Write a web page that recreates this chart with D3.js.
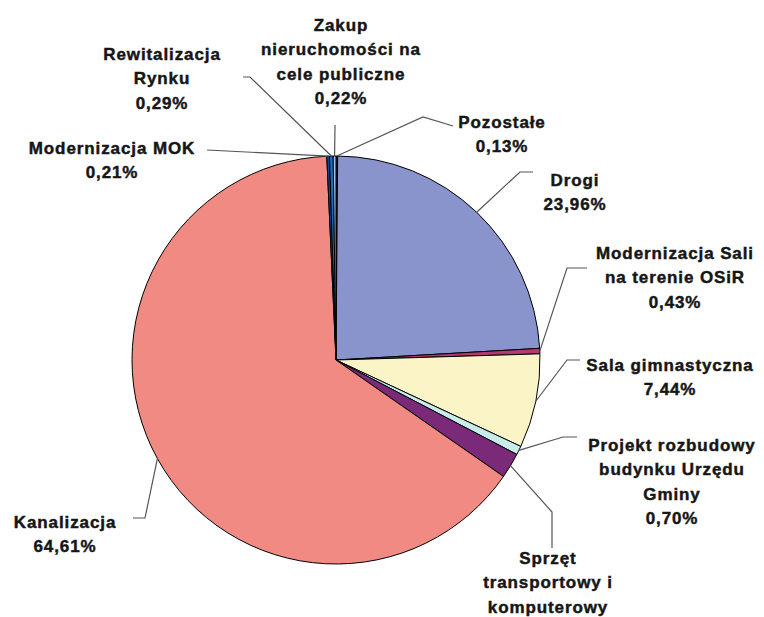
<!DOCTYPE html>
<html>
<head>
<meta charset="utf-8">
<title>Struktura wydatków inwestycyjnych</title>
<style>
body { margin: 0; background: #fff; }
.slice path { stroke: #000; stroke-width: 1px; }
.leader { fill: none; stroke: #555; stroke-width: 1.2px; }
.label text {
  font: bold 17px "Liberation Sans", Arial, sans-serif;
  letter-spacing: 0.9px;
  fill: #161616;
  stroke: #161616;
  stroke-width: 0.45px;
  text-anchor: middle;
}
</style>
</head>
<body>
<svg width="764" height="617"></svg>
<script src="https://cdn.jsdelivr.net/npm/d3@7"></script>
<script>

// data, clockwise from 12 o'clock
var categories = [
  "Pozostałe",
  "Drogi",
  "Modernizacja Sali na terenie OSiR",
  "Sala gimnastyczna",
  "Projekt rozbudowy budynku Urzędu Gminy",
  "Sprzęt transportowy i komputerowy",
  "Kanalizacja",
  "Modernizacja MOK",
  "Rewitalizacja Rynku",
  "Zakup nieruchomości na cele publiczne"
];
var shares = [0.13, 23.96, 0.43, 7.44, 0.70, 2.01, 64.61, 0.21, 0.29, 0.22];
var labelLines = [
  ["Pozostałe"],
  ["Drogi"],
  ["Modernizacja Sali", "na terenie OSiR"],
  ["Sala gimnastyczna"],
  ["Projekt rozbudowy", "budynku Urzędu", "Gminy"],
  ["Sprzęt", "transportowy i", "komputerowy"],
  ["Kanalizacja"],
  ["Modernizacja MOK"],
  ["Rewitalizacja", "Rynku"],
  ["Zakup", "nieruchomości na", "cele publiczne"]
];
var colors = ["#233c8c", "#8894cb", "#b23a6e", "#fbf4c6", "#c8ecea",
              "#7a2a78", "#f28a84", "#0a4a9a", "#1d6bc0", "#a8c0e0"];

// label placement: text centre + first line, leader elbow and end
var labelPos = [[502, 122], [575, 180], [675, 253], [670, 365], [672, 445],
                [548, 558], [65, 522], [112, 148], [162, 54], [341, 25]];
var elbows = [[423, 117], [520, 172], [567, 268], [567, 360], [563, 437],
              [552, 512], [145, 518], [207, 150], [250, 77], [335, 125]];
var ends   = [[453, 126], [533, 172], [587, 268], [580, 360], [577, 437],
              [552, 548], [133, 518], [207, 150], [243, 77], [335, 125]];

var svg = d3.select("svg"),
    cx = 336, cy = 360, radius = 204,
    lineH = 24.3;

var fmt = function(v) { return d3.format(".2f")(v).replace(".", ",") + "%"; };

var pie = d3.pie().sort(null).value(function(d) { return d; });
var arcs = pie(shares);
var arc = d3.arc().innerRadius(0).outerRadius(radius);

var g = svg.append("g").attr("transform", "translate(" + cx + "," + cy + ")");

g.selectAll(".slice")
    .data(arcs)
  .enter().append("g")
    .attr("class", "slice")
  .append("path")
    .attr("d", arc)
    .attr("fill", function(d, i) { return colors[i]; });

// leader lines from the middle of each slice's rim
var line = d3.line();
svg.selectAll(".leader")
    .data(arcs)
  .enter().append("path")
    .attr("class", "leader")
    .attr("d", function(d, i) {
      var a = (d.startAngle + d.endAngle) / 2;
      var p0 = [cx + radius * Math.sin(a), cy - radius * Math.cos(a)];
      return line([p0, elbows[i], ends[i]]);
    });

var label = svg.selectAll(".label")
    .data(arcs)
  .enter().append("g")
    .attr("class", "label")
    .attr("transform", function(d, i) { return "translate(" + labelPos[i][0] + "," + labelPos[i][1] + ")"; });

label.each(function(d, i) {
  var lines = labelLines[i].concat([fmt(shares[i])]);
  d3.select(this).selectAll("text")
      .data(lines)
    .enter().append("text")
      .attr("y", function(t, j) { return j * lineH; })
      .attr("dy", "0.36em")
      .text(function(t) { return t; });
});

</script>
</body>
</html>
